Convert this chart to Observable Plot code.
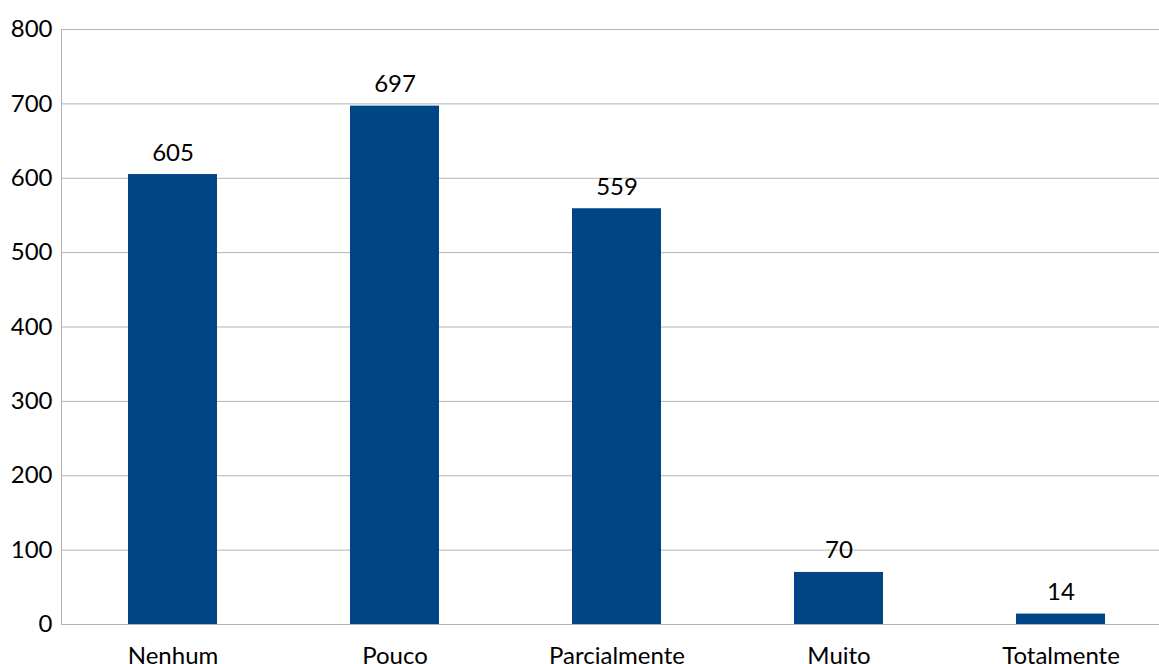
<!DOCTYPE html>
<html>
<head>
<meta charset="utf-8">
<script src="https://cdn.jsdelivr.net/npm/d3@7"></script>
<script src="https://cdn.jsdelivr.net/npm/@observablehq/plot@0.6"></script>
<style>
  html, body { margin: 0; padding: 0; background: #fff; overflow: hidden; }
  #chart svg { display: block; }
</style>
</head>
<body>
<div id="chart"></div>
<script>
// Responses per category
const categories = ["Nenhum", "Pouco", "Parcialmente", "Muito", "Totalmente"];
const counts = [605, 697, 559, 70, 14];
const yTicks = [0, 100, 200, 300, 400, 500, 600, 700, 800];

const data = categories.map((c, i) => ({category: c, count: counts[i]}));

const font = "Lato, 'Open Sans', sans-serif";
const gridColor = "#b3b3b3";

const chart = Plot.plot({
  width: 1159,
  height: 664,
  marginLeft: 61,
  marginRight: 0,
  marginTop: 29,
  marginBottom: 40,
  style: {fontFamily: font, fontSize: "24px", color: "#000", background: "#fff"},
  x: {domain: categories, range: [61, 1172], paddingInner: 0.6, paddingOuter: 0.3, label: null},
  y: {domain: [0, 800], label: null},
  marks: [
    Plot.ruleY(yTicks, {stroke: gridColor, strokeWidth: 1}),
    Plot.frame({anchor: "left", stroke: gridColor}),
    Plot.barY(data, {x: "category", y: "count", fill: "#004586"}),
    Plot.text(data, {
      x: "category", y: "count", text: d => String(d.count),
      lineAnchor: "bottom", dy: -14, fill: "#000", fontSize: 24
    }),
    Plot.axisY(yTicks, {tickSize: 0, tickPadding: 9, fontSize: 24, fill: "#000"}),
    Plot.axisX({tickSize: 0, tickPadding: 22, fontSize: 24, fill: "#000"})
  ]
});

document.getElementById("chart").appendChild(chart);
</script>
</body>
</html>
